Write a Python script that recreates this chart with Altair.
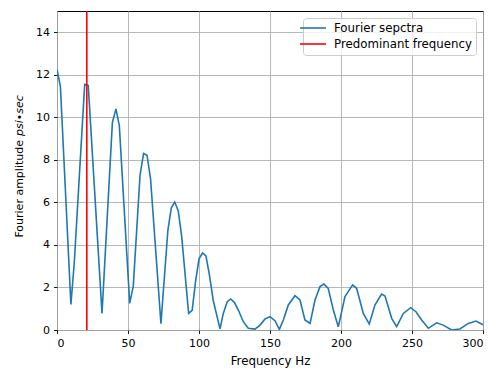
import altair as alt
import pandas as pd

# Fourier spectrum (Hz, amplitude)
freq = [0, 2.4, 9.8, 12.2, 19.5, 22.0, 31.7, 39.0, 41.5, 43.9, 51.2, 53.7, 58.5, 61.0,
        63.4, 65.9, 73.2, 78.1, 80.5, 82.9, 85.4, 87.8, 92.7, 95.2, 97.6, 100.0, 102.5,
        104.9, 107.3, 110.0, 114.8, 117.1, 119.9, 122.3, 124.9, 127.7, 131.2, 134.7,
        139.4, 143.0, 146.5, 150.0, 153.5, 156.6, 159.4, 162.9, 167.6, 171.1, 174.6,
        178.2, 181.7, 185.2, 188.0, 191.0, 194.6, 198.1, 202.8, 208.2, 211.0, 215.7,
        219.9, 223.9, 228.6, 231.0, 235.7, 239.2, 243.9, 249.1, 252.8, 256.8, 261.5,
        267.4, 272.0, 277.9, 283.8, 289.6, 295.0, 300.0]
amp = [12.25, 11.45, 1.2, 3.2, 11.55, 11.5, 0.78, 9.75, 10.4, 9.6, 1.25, 2.05, 7.3, 8.3,
       8.22, 7.1, 0.3, 4.7, 5.75, 6.02, 5.6, 4.4, 0.78, 0.92, 2.3, 3.35, 3.62,
       3.48, 2.6, 1.4, 0.05, 0.78, 1.33, 1.46, 1.3, 0.94, 0.39, 0.08,
       0.04, 0.23, 0.52, 0.63, 0.44, 0.03, 0.47, 1.18, 1.61, 1.41, 0.47,
       0.31, 1.41, 2.04, 2.16, 1.96, 0.94, 0.15, 1.57, 2.12, 1.96, 0.78,
       0.28, 1.17, 1.69, 1.6, 0.55, 0.16, 0.78, 1.05, 0.86, 0.47, 0.08,
       0.34, 0.23, 0.0, 0.05, 0.31, 0.42, 0.25]
predominant = [21.0]
series_names = ["Fourier sepctra", "Predominant frequency"]
series_colors = ["#1f77b4", "#ff0000"]
x_ticks = [0, 50, 100, 150, 200, 250, 300]
y_ticks = [0, 2, 4, 6, 8, 10, 12, 14]

spec_df = pd.DataFrame({"f": freq, "a": amp, "series": series_names[0]})
pred_df = pd.DataFrame({"f": predominant, "series": series_names[1]})

color = alt.Color(
    "series:N",
    scale=alt.Scale(domain=series_names, range=series_colors),
    legend=alt.Legend(
        title=None, orient="none", legendX=246, legendY=7,
        symbolType="M-2.6,0H2.6", symbolStrokeWidth=1.6, symbolSize=100,
        symbolFillColor="transparent",
        labelFontSize=11.8, labelFont="DejaVu Sans", labelColor="black",
        labelExpr="datum.label + '\u2002\u2009'",
        labelOffset=15, rowPadding=3, padding=4,
        fillColor="rgba(255,255,255,0.8)", strokeColor="#cccccc",
        cornerRadius=3,
    ),
)

xenc = alt.X("f:Q", scale=alt.Scale(domain=[0, 300], nice=False),
             axis=alt.Axis(values=x_ticks, title="Frequency Hz", format="d"))

line = alt.Chart(spec_df).mark_line(strokeWidth=1.6, clip=True).encode(
    x=xenc,
    y=alt.Y("a:Q", scale=alt.Scale(domain=[0, 15], nice=False),
            axis=alt.Axis(values=y_ticks, title=None, format="d")),
    color=color,
)

rule = alt.Chart(pred_df).mark_rule(strokeWidth=1.6).encode(
    x=xenc,
    color=color,
)

title_df = pd.DataFrame({"t": [0]})
ytitle1 = alt.Chart(title_df).mark_text(
    text="Fourier amplitude", angle=270, align="right", baseline="middle",
    font="DejaVu Sans", fontSize=11, color="black",
).encode(x=alt.value(-37), y=alt.value(129))
ytitle2 = alt.Chart(title_df).mark_text(
    text="psi\u2022sec", angle=270, align="left", baseline="middle",
    font="DejaVu Sans", fontSize=11, fontStyle="italic", color="black",
).encode(x=alt.value(-37), y=alt.value(125))

chart = alt.layer(line, rule, ytitle1, ytitle2).properties(
    width=426, height=319,
    autosize=alt.AutoSizeParams(type="none"),
    padding={"left": 57, "top": 11, "right": 8, "bottom": 40},
    background="white",
).configure_view(
    stroke="black", strokeWidth=1,
).configure_axis(
    domain=False, grid=True, gridColor="#b0b0b0", gridWidth=0.9,
    tickColor="black", tickSize=3.5, tickWidth=0.9,
    labelFont="DejaVu Sans", labelFontSize=11, labelColor="black", labelPadding=4,
    titleFont="DejaVu Sans", titleFontSize=11.8, titleFontWeight="normal",
    titleColor="black", titlePadding=7,
)

chart.save("out.html", embed_options={"renderer": "svg", "actions": False})
